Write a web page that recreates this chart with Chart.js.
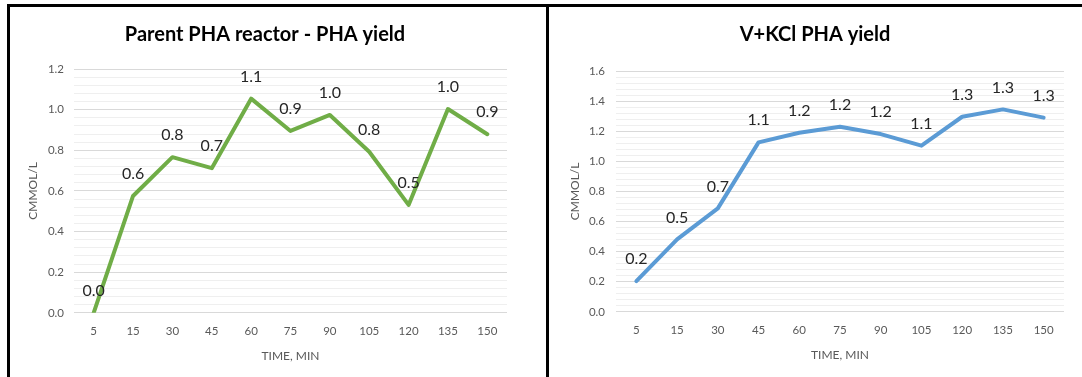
<!DOCTYPE html>
<html>
<head>
<meta charset="utf-8">
<script src="https://cdn.jsdelivr.net/npm/chart.js@4.4.1/dist/chart.umd.min.js"></script>
<style>
  html, body { margin: 0; padding: 0; background: #ffffff; }
  body { width: 1082px; height: 377px; position: relative; overflow: hidden; }
  .bar { position: absolute; background: #000; }
  canvas { position: absolute; }
</style>
</head>
<body>
<div class="bar" style="left:7px;top:4px;width:1075px;height:3px;"></div>
<div class="bar" style="left:7px;top:4px;width:3px;height:373px;"></div>
<div class="bar" style="left:546px;top:4px;width:3px;height:373px;"></div>
<canvas id="c1" width="536" height="370" style="left:10px;top:7px;width:536px;height:370px;"></canvas>
<canvas id="c2" width="533" height="370" style="left:549px;top:7px;width:533px;height:370px;"></canvas>
<script>
// ---- data ----
const categories = ['5', '15', '30', '45', '60', '75', '90', '105', '120', '135', '150'];
const parentYield = [0.0, 0.575, 0.766, 0.712, 1.054, 0.895, 0.974, 0.793, 0.531, 1.003, 0.879];
const vkclYield = [0.204, 0.481, 0.687, 1.126, 1.19, 1.23, 1.181, 1.104, 1.296, 1.345, 1.29];
const title1 = 'Parent PHA reactor - PHA yield';
const title2 = 'V+KCl PHA yield';
const yAxisTitle = 'CMMOL/L';
const xAxisTitle = 'TIME, MIN';
const yMax1 = 1.2;
const yMax2 = 1.6;
const yMajorStep = 0.2;
const yMinorStep = 0.04;

const FONT = 'Lato, "Open Sans", "Liberation Sans", sans-serif';

const dataLabelPlugin = {
  id: 'dataLabels',
  afterDatasetsDraw(chart) {
    const ctx = chart.ctx;
    ctx.save();
    ctx.font = '16px ' + FONT;
    ctx.fillStyle = '#262626';
    ctx.textAlign = 'center';
    ctx.textBaseline = 'middle';
    chart.data.datasets.forEach((ds, di) => {
      const meta = chart.getDatasetMeta(di);
      meta.data.forEach((pt, i) => {
        ctx.fillText(Number(ds.data[i]).toFixed(1), pt.x, pt.y - 22);
      });
    });
    ctx.restore();
  }
};

function isMajor(v) {
  return Math.abs(Math.round(v / yMajorStep) * yMajorStep - v) < 1e-6;
}

function makeChart(id, title, values, color, yMax, opts) {
  return new Chart(document.getElementById(id), {
    type: 'line',
    data: {
      labels: categories,
      datasets: [{
        data: values,
        borderColor: color,
        backgroundColor: color,
        borderWidth: 4,
        pointRadius: 0,
        pointHoverRadius: 0,
        tension: 0,
        borderJoinStyle: 'round',
        borderCapStyle: 'round',
        fill: false
      }]
    },
    options: {
      responsive: false,
      animation: false,
      events: [],
      layout: { padding: { left: opts.padLeft, right: opts.padRight, top: 0, bottom: opts.padBottom } },
      plugins: {
        legend: { display: false },
        tooltip: { enabled: false },
        title: {
          display: true,
          text: title,
          color: '#000000',
          font: { family: FONT, size: 20, weight: 'bold' },
          padding: { top: 16, bottom: opts.titleBottom }
        }
      },
      scales: {
        x: {
          offset: true,
          grid: { display: false, drawTicks: false },
          border: { display: false },
          ticks: {
            autoSkip: false,
            maxRotation: 0,
            padding: 12,
            color: '#595959',
            font: { family: FONT, size: 11.5 }
          },
          title: {
            display: true,
            text: xAxisTitle,
            color: '#595959',
            font: { family: FONT, size: 12 },
            padding: { top: -2, bottom: 0 }
          }
        },
        y: {
          min: 0,
          max: yMax,
          grid: {
            drawTicks: false,
            color: (c) => (c.tick && isMajor(c.tick.value)) ? '#d9d9d9' : '#efefef',
            lineWidth: 1
          },
          border: { display: false },
          ticks: {
            stepSize: yMinorStep,
            autoSkip: false,
            padding: opts.tickPad,
            color: '#595959',
            font: { family: FONT, size: 11.5 },
            callback: (v) => isMajor(v) ? Number(v).toFixed(1) : ''
          },
          title: {
            display: true,
            text: yAxisTitle,
            color: '#595959',
            font: { family: FONT, size: 12 },
            padding: { top: opts.yTitlePad, bottom: 0 }
          },
          afterFit: (scale) => { scale.width = opts.yWidth; }
        }
      }
    },
    plugins: [dataLabelPlugin]
  });
}

makeChart('c1', title1, parentYield, '#70AD47', yMax1,
  { padLeft: 13, padRight: 39, padBottom: 14, titleBottom: 22, yWidth: 51, tickPad: 10, yTitlePad: 3 });
makeChart('c2', title2, vkclYield, '#5B9BD5', yMax2,
  { padLeft: 17, padRight: 18, padBottom: 15, titleBottom: 24, yWidth: 50, tickPad: 11, yTitlePad: 2 });
</script>
</body>
</html>
